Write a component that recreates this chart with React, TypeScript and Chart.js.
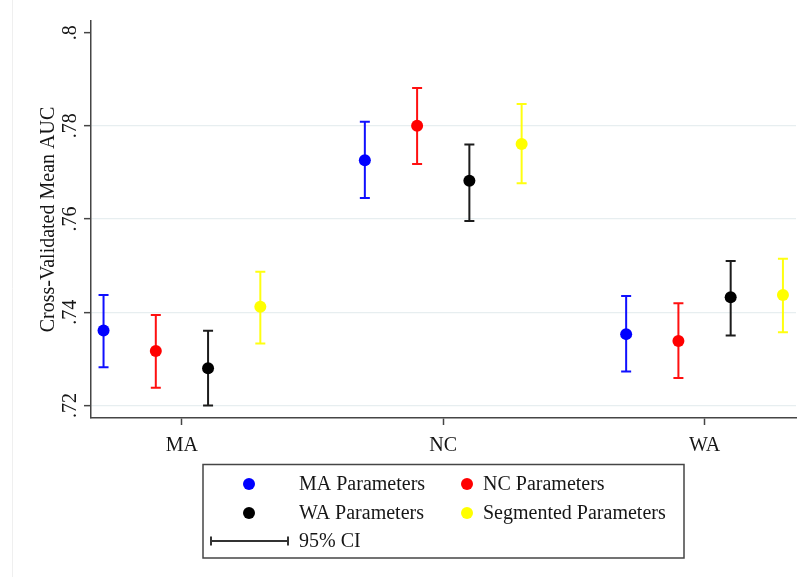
import { useEffect, useRef } from "react";
import { Chart, registerables } from "chart.js";

Chart.register(...registerables);

// Regions on the x axis
const categories = ["MA", "NC", "WA"];

// Model variants (one marker colour each)
const seriesNames = ["MA Parameters", "NC Parameters", "WA Parameters", "Segmented Parameters"];
const seriesColors = ["#0000ff", "#ff0000", "#000000", "#ffff00"];
const barColors = ["#1010ff", "#ff1010", "#1c1c1c", "#ffff10"];

// Cross-validated mean AUC per region, with 95% CI bounds
const maParamsMean = [0.7361, 0.7726, 0.7353];
const maParamsLow = [0.7282, 0.7645, 0.7273];
const maParamsHigh = [0.7437, 0.7809, 0.7435];

const ncParamsMean = [0.7317, 0.78, 0.7338];
const ncParamsLow = [0.7238, 0.7718, 0.7259];
const ncParamsHigh = [0.7394, 0.7881, 0.7419];

const waParamsMean = [0.728, 0.7682, 0.7432];
const waParamsLow = [0.72, 0.7596, 0.735];
const waParamsHigh = [0.736, 0.776, 0.751];

const segParamsMean = [0.7412, 0.7761, 0.7437];
const segParamsLow = [0.7333, 0.7677, 0.7357];
const segParamsHigh = [0.7487, 0.7847, 0.7515];

const yTicks = [0.72, 0.74, 0.76, 0.78, 0.8];
const yTitle = "Cross-Validated Mean AUC";
const ciLabel = "95% CI";

const means = [maParamsMean, ncParamsMean, waParamsMean, segParamsMean];
const lows = [maParamsLow, ncParamsLow, waParamsLow, segParamsLow];
const highs = [maParamsHigh, ncParamsHigh, waParamsHigh, segParamsHigh];

// horizontal dodge of each series within a region
const dodge = [-0.3, -0.1, 0.1, 0.3];

const FONT = "'Liberation Serif', 'Times New Roman', serif";
const TEXT = "#161616";
const AXIS = "#454545";

const errorBarsPlugin = {
  id: "errorBars",
  beforeDatasetsDraw(chart: any) {
    const { ctx, scales } = chart;
    const x = scales.x;
    const y = scales.y;
    chart.data.datasets.forEach((ds: any) => {
      ctx.save();
      ctx.strokeStyle = ds.barColor;
      ctx.lineWidth = 2;
      ds.data.forEach((p: any, i: number) => {
        const px = x.getPixelForValue(p.x);
        const top = y.getPixelForValue(ds.errHigh[i]);
        const bot = y.getPixelForValue(ds.errLow[i]);
        ctx.beginPath();
        ctx.moveTo(px, top);
        ctx.lineTo(px, bot);
        ctx.moveTo(px - 5, top);
        ctx.lineTo(px + 5, top);
        ctx.moveTo(px - 5, bot);
        ctx.lineTo(px + 5, bot);
        ctx.stroke();
      });
      ctx.restore();
    });
  },
};

const legendBoxPlugin = {
  id: "legendBox",
  afterDraw(chart: any) {
    const { ctx } = chart;
    ctx.save();
    // faint frame line at the left of the figure
    ctx.strokeStyle = "#efefef";
    ctx.lineWidth = 1;
    ctx.beginPath();
    ctx.moveTo(12.5, 0);
    ctx.lineTo(12.5, chart.height);
    ctx.stroke();

    const box = { left: 203, top: 464.5, right: 684, bottom: 558 };
    ctx.strokeStyle = AXIS;
    ctx.lineWidth = 1.5;
    ctx.strokeRect(box.left, box.top, box.right - box.left, box.bottom - box.top);

    const rows = [484, 513];
    const markerX = [249, 467];
    const textX = [299, 483];
    ctx.font = `20px ${FONT}`;
    ctx.textBaseline = "middle";
    ctx.textAlign = "left";
    chart.data.datasets.forEach((ds: any, i: number) => {
      const r = Math.floor(i / 2);
      const c = i % 2;
      ctx.fillStyle = ds.pointBackgroundColor;
      ctx.beginPath();
      ctx.arc(markerX[c], rows[r], 6, 0, Math.PI * 2);
      ctx.fill();
      ctx.fillStyle = TEXT;
      ctx.fillText(ds.label, textX[c], rows[r] + 1);
    });

    const ciY = 541;
    ctx.strokeStyle = "#333";
    ctx.lineWidth = 2;
    ctx.beginPath();
    ctx.moveTo(211, ciY);
    ctx.lineTo(288, ciY);
    ctx.moveTo(211, ciY - 4.5);
    ctx.lineTo(211, ciY + 4.5);
    ctx.moveTo(288, ciY - 4.5);
    ctx.lineTo(288, ciY + 4.5);
    ctx.stroke();
    ctx.fillStyle = TEXT;
    ctx.fillText(ciLabel, 299, ciY + 1);
    ctx.restore();
  },
};

export default function App() {
  const canvasRef = useRef<HTMLCanvasElement | null>(null);

  useEffect(() => {
    document.body.style.margin = "0";
    const canvas = canvasRef.current;
    if (!canvas) return;

    const datasets = seriesNames.map((name, s) => ({
      label: name,
      data: categories.map((_, i) => ({ x: i + 1 + dodge[s], y: means[s][i] })),
      errLow: lows[s],
      errHigh: highs[s],
      barColor: barColors[s],
      pointBackgroundColor: seriesColors[s],
      pointBorderWidth: 0,
      pointRadius: 6,
      pointHoverRadius: 6,
      showLine: false,
    }));

    const chart = new Chart(canvas, {
      type: "scatter",
      data: { datasets } as any,
      plugins: [errorBarsPlugin, legendBoxPlugin],
      options: {
        animation: false,
        responsive: false,
        devicePixelRatio: 1,
        layout: { padding: { top: 21, right: 9, left: 0, bottom: 0 } },
        plugins: { legend: { display: false }, tooltip: { enabled: false } },
        events: [],
        scales: {
          x: {
            type: "linear",
            min: 0.652,
            max: 3.35,
            afterBuildTicks: (scale: any) => {
              scale.ticks = categories.map((_, i) => ({ value: i + 1 }));
            },
            afterFit: (scale: any) => {
              scale.height = 159;
            },
            ticks: {
              autoSkip: false,
              maxRotation: 0,
              padding: 9,
              color: TEXT,
              font: { family: FONT, size: 20 },
              callback: (v: any) => categories[Math.round(Number(v)) - 1] ?? "",
            },
            grid: {
              drawOnChartArea: false,
              drawTicks: true,
              tickLength: 7,
              tickColor: AXIS,
              tickWidth: 1.5,
            },
            border: { display: true, color: AXIS, width: 1.5 },
          },
          y: {
            type: "linear",
            min: 0.7173,
            max: 0.8025,
            afterBuildTicks: (scale: any) => {
              scale.ticks = yTicks.map((v) => ({ value: v }));
            },
            afterFit: (scale: any) => {
              scale.width = 91;
            },
            ticks: {
              autoSkip: false,
              minRotation: 90,
              maxRotation: 90,
              crossAlign: "center",
              padding: 1,
              color: TEXT,
              font: { family: FONT, size: 20 },
              callback: (v: any) => String(Number(v)).replace(/^0/, ""),
            },
            grid: {
              color: (ctx: any) => (ctx.tick && ctx.tick.value >= 0.8 ? "rgba(0,0,0,0)" : "#e7eef0"),
              lineWidth: 1.3,
              tickLength: 7,
              tickColor: AXIS,
              tickWidth: 1.5,
            },
            border: { display: true, color: AXIS, width: 1.5 },
            title: {
              display: true,
              text: yTitle,
              color: TEXT,
              font: { family: FONT, size: 20 },
              padding: { top: 37, bottom: 0 },
            },
          },
        },
      } as any,
    });

    return () => chart.destroy();
  }, []);

  return <canvas ref={canvasRef} width={805} height={577} style={{ display: "block" }} />;
}
